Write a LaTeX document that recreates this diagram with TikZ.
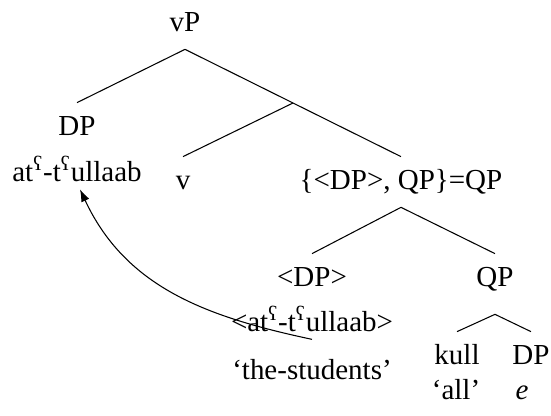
\documentclass[tikz,border=0pt]{standalone}
\usepackage{fontspec}
\setmainfont{Liberation Serif}
\usetikzlibrary{calc,arrows.meta}
\pgfdeclarelayer{edgelayer}
\pgfdeclarelayer{nodelayer}
\pgfsetlayers{edgelayer,nodelayer,main}
\newcommand{\phar}{\textsuperscript{ʕ}}
\tikzstyle{cat}=[anchor=base, font=\fontsize{16.5}{19}\selectfont, text height=0.40cm, text depth=0.08cm, inner xsep=0pt, inner ysep=0.26cm]
\tikzstyle{word}=[anchor=base, font=\fontsize{16.5}{19}\selectfont, text height=0.40cm, text depth=0.08cm, inner xsep=0pt, inner ysep=0.06cm]
\tikzstyle{treeline}=[-, draw=black, line width=0.6pt]
\tikzstyle{movearrow}=[-{Latex[length=7pt,width=5pt]}, draw=black, line width=0.6pt]
\begin{document}
\begin{tikzpicture}
            \useasboundingbox (0, 0) rectangle (11.02, 8.32);
            \begin{pgfonlayer}{nodelayer}
                \node [style=cat] (vP) at (3.70, 7.68) {vP};
                \node [style=cat] (DPsubj) at (1.54, 5.60) {DP};
                \node [style=word] (subj) at (1.54, 4.68) {at\phar-t\phar ullaab};
                \node [style=cat] (v) at (3.66, 4.52) {v};
                \node [style=cat] (QPset) at (8.02, 4.52) {\{<DP>, QP\}=QP};
                \node [style=cat] (DPcopy) at (6.24, 2.58) {<DP>};
                \node [style=word] (copy) at (6.24, 1.68) {<at\phar-t\phar ullaab>};
                \node [style=word] (gloss1) at (6.24, 0.72) {`the-students'};
                \node [style=cat] (QP) at (9.90, 2.58) {QP};
                \node [style=cat] (kull) at (9.14, 1.02) {kull};
                \node [style=cat] (DPe) at (10.62, 1.02) {DP};
                \node [style=word] (gloss2) at (9.12, 0.32) {`all'};
                \node [style=word] (empty) at (10.44, 0.32) {\textit{e}};
                \coordinate (vbar) at ($(vP.south)!0.5!(QPset.north)$);
            \end{pgfonlayer}
            \begin{pgfonlayer}{edgelayer}
                \draw [style=treeline] (vP.south) to (DPsubj.north);
                \draw [style=treeline] (vP.south) to (QPset.north);
                \draw [style=treeline] (vbar) to (v.north);
                \draw [style=treeline] (QPset.south) to (DPcopy.north);
                \draw [style=treeline] (QPset.south) to (QP.north);
                \draw [style=treeline] ([yshift=-0.2cm]QP.south) to (kull.north);
                \draw [style=treeline] ([yshift=-0.2cm]QP.south) to (DPe.north);
                \draw [style=movearrow] (copy.south) to [out=168, in=-65] ([xshift=0.06cm]subj.south);
            \end{pgfonlayer}
        \end{tikzpicture}
\end{document}
